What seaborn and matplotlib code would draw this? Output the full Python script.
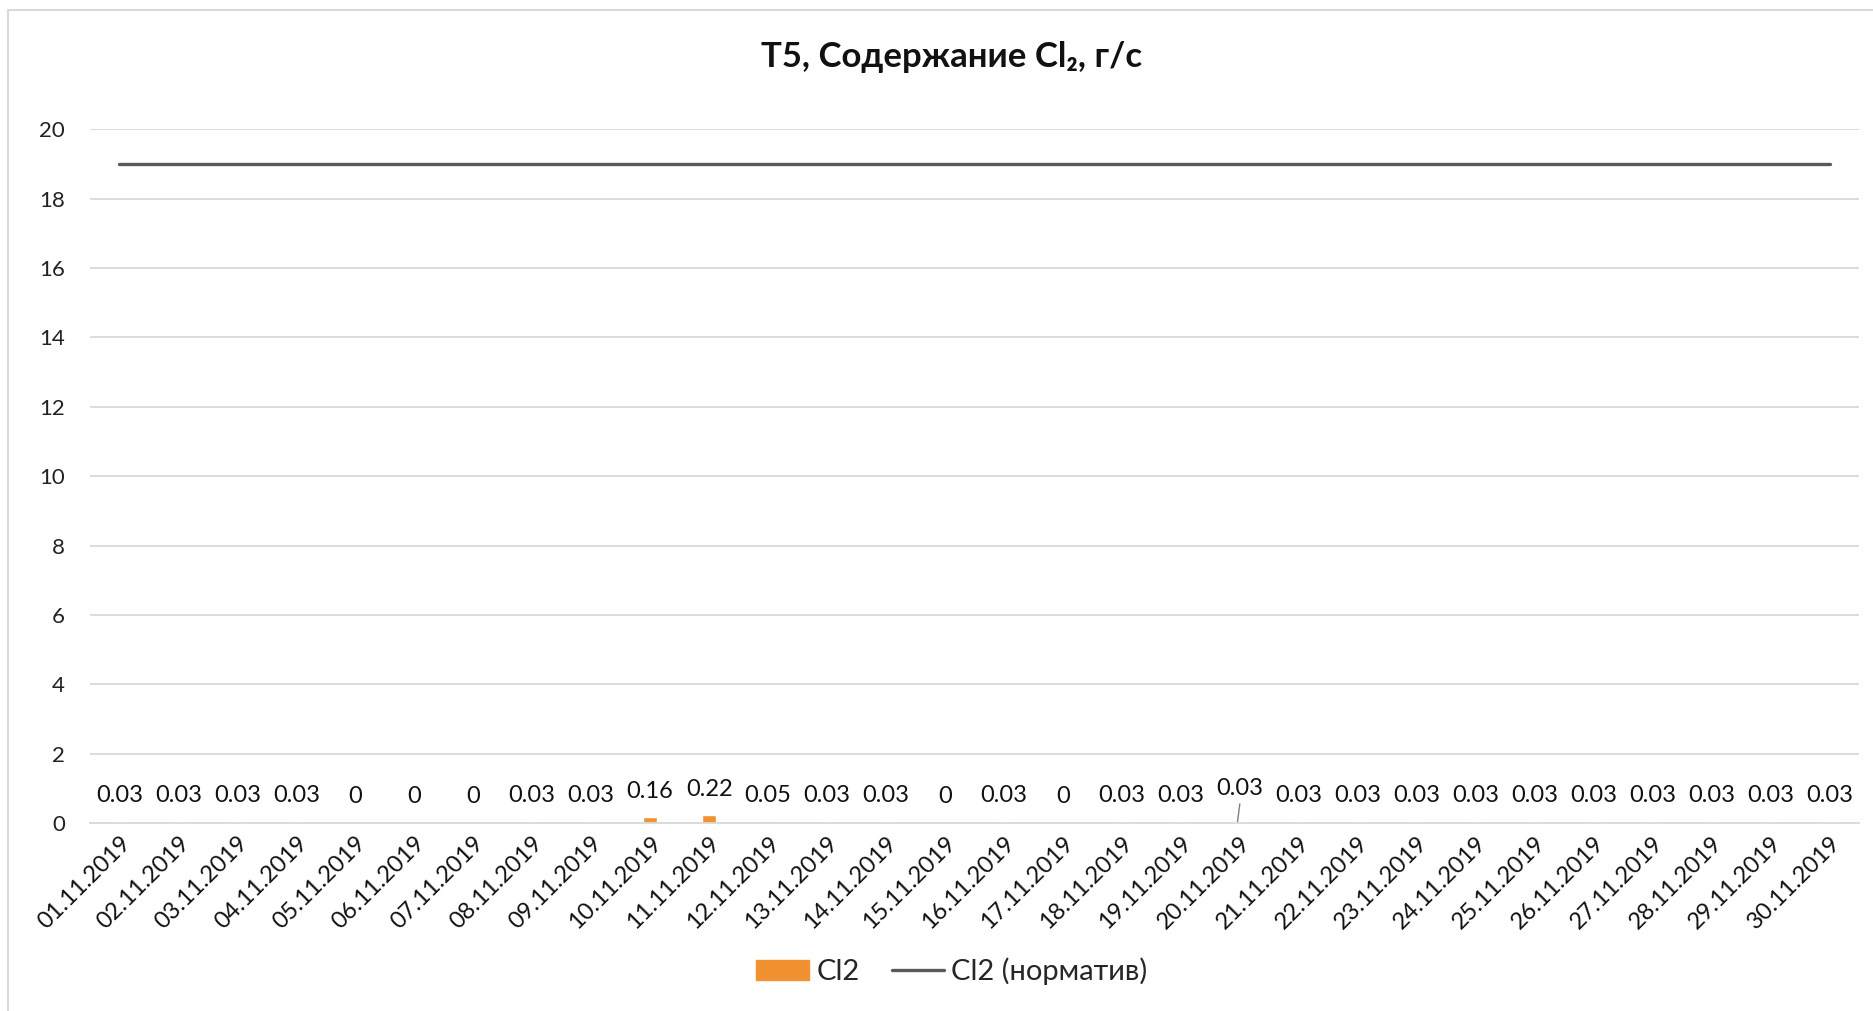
import numpy as np
import pandas as pd
import seaborn as sns
import matplotlib.pyplot as plt
from matplotlib.lines import Line2D
from matplotlib.patches import Patch

# ==========================================
# DATA
# ==========================================

DATES = [f"{d:02d}.11.2019" for d in range(1, 31)]
CL2_VALUES = [0.03, 0.03, 0.03, 0.03, 0, 0, 0, 0.03, 0.03, 0.16,
              0.22, 0.05, 0.03, 0.03, 0, 0.03, 0, 0.03, 0.03, 0.03,
              0.03, 0.03, 0.03, 0.03, 0.03, 0.03, 0.03, 0.03, 0.03, 0.03]
CL2_NORM = [19] * 30

TITLE = "T5, Содержание Cl\u2082, г/с"
LABEL_BAR = "Cl2"
LABEL_LINE = "Cl2 (норматив)"

BAR_COLOR = "#F29131"
LINE_COLOR = "#595959"
GRID_COLOR = "#D9D9D9"
FONT = ["Lato", "DejaVu Sans"]

# ==========================================

df = pd.DataFrame({"date": DATES, "value": CL2_VALUES, "norm": CL2_NORM})

sns.set_theme(style="white")
plt.rcParams["font.family"] = FONT

fig = plt.figure(figsize=(18.74, 10.11), dpi=100)
ax = fig.add_axes([0.048, 0.186, 0.944, 0.686])

sns.barplot(data=df, x="date", y="value", color=BAR_COLOR, width=0.24,
            saturation=1, ax=ax)
ax.plot(np.arange(len(df)), df["norm"], color=LINE_COLOR, lw=2.4,
        solid_capstyle="round", zorder=3)

ax.set_xlim(-0.5, len(df) - 0.5)
ax.set_ylim(0, 20)
ax.set_yticks(np.arange(0, 21, 2))
ax.yaxis.grid(True, color=GRID_COLOR, lw=1.3)
ax.set_axisbelow(True)
for s in ["top", "right", "left"]:
    ax.spines[s].set_visible(False)
ax.spines["bottom"].set_color(GRID_COLOR)
ax.spines["bottom"].set_linewidth(1.3)

ax.tick_params(axis="y", length=0, pad=18, labelsize=16, labelcolor="#222222")
# category boundary ticks on the x axis
ax.set_xticks(np.arange(-0.5, len(df), 1), minor=True)
ax.tick_params(axis="x", which="minor", length=9, width=1.3, color=GRID_COLOR,
               direction="out")
ax.tick_params(axis="x", which="major", length=0, pad=7, labelsize=17,
               labelcolor="#111111")
plt.setp(ax.get_xticklabels(), rotation=45, ha="right", rotation_mode="anchor")
ax.set_xlabel("")
ax.set_ylabel("")

# data labels
for i, v in enumerate(df["value"]):
    dy = 26
    if df["date"][i] == "20.11.2019":
        dy = 33
        ax.plot([i - 0.04, i], [0.03, 0.55], color="#7F7F7F", lw=1)
    ax.annotate(f"{v:g}", (i, v), xytext=(0, dy), textcoords="offset pixels",
                ha="center", va="center", fontsize=17, color="#111111")

fig.text(0.508, 0.944, TITLE, fontsize=25, fontweight="bold",
         ha="center", va="center", color="#111111")

handles = [Patch(color=BAR_COLOR, label=LABEL_BAR),
           Line2D([], [], color=LINE_COLOR, lw=2.4, label=LABEL_LINE)]
fig.legend(handles=handles, loc="center", bbox_to_anchor=(0.508, 0.039), ncol=2,
           frameon=False, fontsize=21, handlelength=1.8, handleheight=0.7,
           handletextpad=0.25, columnspacing=1.1)

# chart frame (top and left edges visible)
fig.add_artist(Line2D([0.0043, 0.0043], [0, 0.99], color=GRID_COLOR, lw=1.5,
                      transform=fig.transFigure))
fig.add_artist(Line2D([0.0043, 1], [0.99, 0.99], color=GRID_COLOR, lw=1.5,
                      transform=fig.transFigure))

fig.savefig("out.png", dpi=100)
